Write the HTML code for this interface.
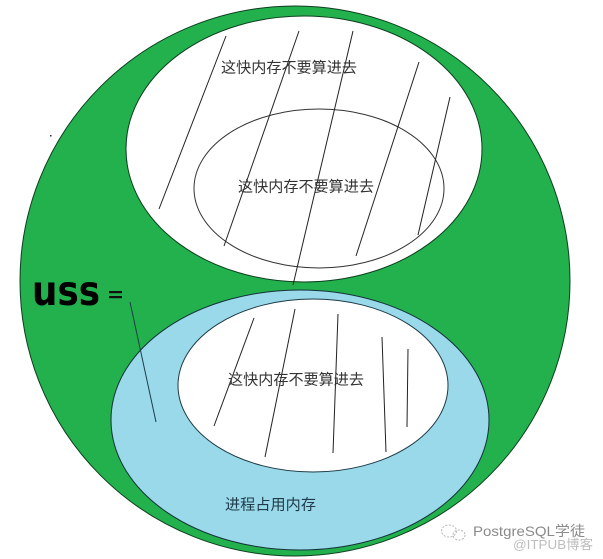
<!DOCTYPE html>
<html><head><meta charset="utf-8">
<style>
html,body{margin:0;padding:0;background:#fff;width:603px;height:559px;overflow:hidden}
svg{display:block}
text{font-family:"Liberation Sans","Noto Sans CJK SC",sans-serif}
</style></head>
<body>
<svg width="603" height="559" viewBox="0 0 603 559" xmlns="http://www.w3.org/2000/svg">
<rect width="603" height="559" fill="#fff"/>
<ellipse cx="295" cy="281" rx="275" ry="275" fill="#22b14c" stroke="#0d3f20" stroke-width="1"/>
<ellipse cx="304" cy="149" rx="178" ry="133" fill="#fff" stroke="#0d3f20" stroke-width="1"/>
<ellipse cx="319" cy="188.5" rx="125" ry="79.5" fill="#fff" stroke="#333" stroke-width="1"/>
<ellipse cx="300" cy="420" rx="189" ry="130" fill="#99d9ea" stroke="#14323a" stroke-width="1"/>
<ellipse cx="313" cy="385.5" rx="135" ry="86.5" fill="#fff" stroke="#1c3a44" stroke-width="1"/>
<g stroke="#222" stroke-width="1" fill="none">
<line x1="226" y1="36" x2="159" y2="209"/>
<line x1="299" y1="31" x2="224" y2="246"/>
<line x1="353" y1="31" x2="293" y2="285"/>
<line x1="419" y1="62" x2="356" y2="256"/>
<line x1="450" y1="97" x2="418" y2="235"/>
<line x1="254" y1="318" x2="214" y2="426"/>
<line x1="295" y1="309" x2="265" y2="457"/>
<line x1="338" y1="314" x2="333" y2="453"/>
<line x1="382" y1="337" x2="386" y2="452"/>
<line x1="408" y1="349" x2="407" y2="427"/>
<line x1="130" y1="302" x2="156" y2="422" stroke="#1d3d48"/>
</g>
<rect x="50" y="135" width="1.5" height="1.5" fill="#333"/>
<g font-size="15" fill="#333">
<text x="221" y="72.500" textLength="136" lengthAdjust="spacingAndGlyphs">这快内存不要算进去</text>
<text x="238" y="191.500" textLength="136" lengthAdjust="spacingAndGlyphs">这快内存不要算进去</text>
<text x="228" y="384.500" textLength="136" lengthAdjust="spacingAndGlyphs">这快内存不要算进去</text>
<text x="225" y="509.500" textLength="91" lengthAdjust="spacingAndGlyphs" fill="#1f3a48">进程占用内存</text>
</g>
<text x="32" y="305" font-size="41" font-weight="bold" textLength="68" lengthAdjust="spacingAndGlyphs" style="font-family:'DejaVu Sans',sans-serif" fill="#000">uss</text>
<rect x="109" y="291" width="13" height="2.200" fill="#111"/>
<rect x="109" y="296" width="13" height="2.200" fill="#111"/>
<g fill="none" stroke="#b5b5b5" stroke-width="1" stroke-dasharray="2 1.500">
<ellipse cx="449" cy="531" rx="7.500" ry="6"/>
<ellipse cx="459" cy="535" rx="6" ry="5"/>
</g>
<text x="473" y="536" font-size="14" fill="#8a8a8a" textLength="112" lengthAdjust="spacingAndGlyphs">PostgreSQL学徒</text>
<text x="513" y="549" font-size="13" fill="#bdbdbd" textLength="80" lengthAdjust="spacingAndGlyphs">@ITPUB博客</text>
</svg>
</body></html>
